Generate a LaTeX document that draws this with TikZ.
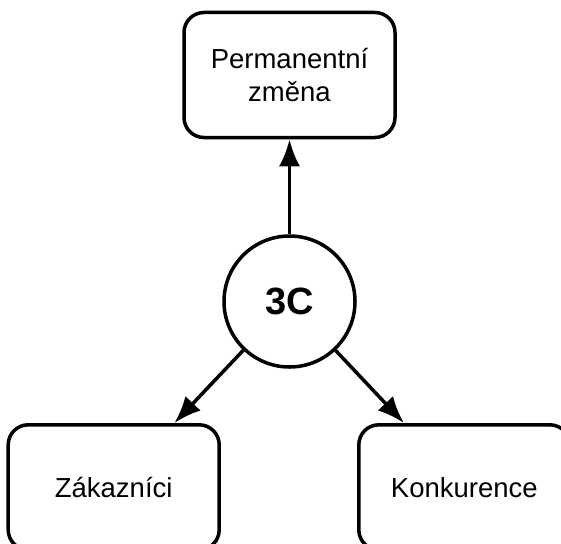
\documentclass[tikz,border=0pt]{standalone}
\usepackage{fontspec}
\setmainfont{Liberation Sans}
\usepackage{tikz}
\usetikzlibrary{arrows.meta,positioning}
\tikzset{
  every box node/.style={
    draw=black,line width=3.5pt,rounded corners=20pt,fill=white,
    minimum width=211pt,minimum height=125pt,align=center,
    font=\fontsize{27.5}{33}\selectfont,
  },
  every hub node/.style={
    draw=black,line width=3.5pt,circle,fill=white,
    minimum size=131pt,inner sep=0pt,
    font=\fontsize{38}{44}\selectfont\bfseries,
  },
  link/.style={
    line width=3.5pt,-{Latex[length=27pt,width=21pt]},
  },
}
\begin{document}
\begin{tikzpicture}[x=1pt,y=-1pt]
			\useasboundingbox (0,0) rectangle (561,543);
			\node[every hub node] (c) at (289.5,301.5) {3C};
			\node[every box node] (zmena) [above=95pt of c] {Permanentní\\změna};
			\node[every box node] (zak) [below left=74pt and 21pt of c] {Zákazníci};
			\node[every box node] (konk) [below right=74pt and 20pt of c] {Konkurence};
			\draw [link] (c) -- (zmena);
			\draw [link] (c) -- (zak);
			\draw [link] (c) -- (konk);
		\end{tikzpicture}
\end{document}
